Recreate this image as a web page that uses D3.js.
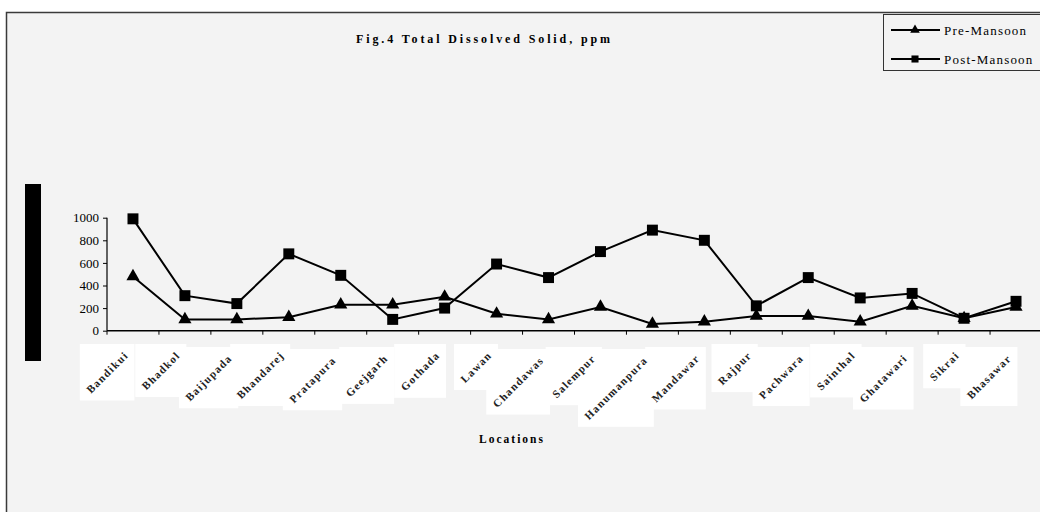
<!DOCTYPE html>
<html><head><meta charset="utf-8">
<script src="https://cdn.jsdelivr.net/npm/d3@7"></script>
<style>
html,body{margin:0;padding:0;background:#fff;}
svg{display:block;}
svg text{font-family:"Liberation Serif","DejaVu Serif",serif;}
</style></head>
<body>
<script>
const locations = ["Bandikui","Bhadkol","Baijupada","Bhandarej","Pratapura","Geejgarh","Gothada","Lawan","Chandawas","Salempur","Hanumanpura","Mandawar","Rajpur","Pachwara","Sainthal","Ghatawari","Sikrai","Bhasawar"];
const preMansoon  = [480,100,100,120,230,230,300,150,100,210,60,80,130,130,80,220,110,210];
const postMansoon = [990,310,240,680,490,100,200,590,470,700,890,800,220,470,290,330,110,260];
const yTicks = [0,200,400,600,800,1000];
const seriesNames = ["Pre-Mansoon","Post-Mansoon"];

const W=1040,H=512;
const svg=d3.select("body").append("svg").attr("width",W).attr("height",H);

// frame
svg.append("rect").attr("x",6.5).attr("y",12.5).attr("width",W).attr("height",H).attr("fill","#f3f3f3").attr("stroke","#3a3a3a").attr("stroke-width",1.5);

const x=d3.scaleBand().domain(locations).range([107,1042]);
const y=d3.scaleLinear().domain([0,1000]).range([330.7,217.7]);

// title
svg.append("text").attr("x",356).attr("y",43).attr("font-weight","bold").attr("font-size",12)
  .attr("textLength",254).attr("lengthAdjust","spacing").attr("fill","#000").text("Fig.4 Total Dissolved Solid, ppm");

// y axis title block
svg.append("rect").attr("x",25).attr("y",184).attr("width",16).attr("height",177).attr("fill","#000");

// y axis
const yAxis=svg.append("g").attr("transform","translate(107,0)")
  .call(d3.axisLeft(y).tickValues(yTicks).tickSize(4).tickPadding(4).tickFormat(d3.format("d")));
yAxis.attr("font-family",null);
yAxis.select(".domain").attr("stroke","#000").attr("stroke-width",1.2).attr("d","M0,"+y(1000)+"V"+y(0));
yAxis.selectAll("line").attr("stroke","#000");
yAxis.selectAll("text").attr("font-size",13).attr("fill","#000");

// x axis
const xg=svg.append("g");
xg.append("line").attr("x1",107).attr("x2",1042).attr("y1",y(0)).attr("y2",y(0)).attr("stroke","#000").attr("stroke-width",1.5);
const edges=locations.map(d=>x(d)).concat([x.range()[1]]);
xg.selectAll("line.tk").data(edges).enter().append("line").attr("class","tk")
  .attr("x1",d=>d).attr("x2",d=>d).attr("y1",y(0)).attr("y2",y(0)+4).attr("stroke","#000").attr("stroke-width",1);

// x labels with white boxes
const boxG=svg.append("g"), txtG=svg.append("g");
const stagger=[0,0,3,0,5,3,0,0,5,3,5,3,0,3,0,3,0,3];
locations.forEach((d,i)=>{
  const cx=x(d)+x.bandwidth()/2;
  const t=txtG.append("text").attr("font-size",11).attr("font-weight","bold").attr("letter-spacing",1.3)
    .attr("text-anchor","end").attr("fill","#222")
    .attr("transform",`translate(${cx-4},${356+stagger[i]}) rotate(-45)`).text(d);
  const n=t.node(); const bb=n.getBBox(); const m=n.getCTM();
  const pts=[[bb.x,bb.y],[bb.x+bb.width,bb.y],[bb.x,bb.y+bb.height],[bb.x+bb.width,bb.y+bb.height]]
    .map(([px,py])=>[m.a*px+m.c*py+m.e, m.b*px+m.d*py+m.f]);
  const x0=d3.min(pts,p=>p[0]),x1=d3.max(pts,p=>p[0]),y0=d3.min(pts,p=>p[1]),y1=d3.max(pts,p=>p[1]);
  boxG.append("rect").attr("x",x0-4).attr("y",y0-5).attr("width",x1-x0+8).attr("height",y1-y0+10).attr("fill","#fff");
});

// x axis title
svg.append("text").attr("x",512).attr("y",443).attr("text-anchor","middle").attr("font-weight","bold")
  .attr("font-size",11.5).attr("letter-spacing",2).attr("fill","#000").text("Locations");

// lines
const line=d3.line().x((d,i)=>x(locations[i])+x.bandwidth()/2).y(d=>y(d));
svg.append("path").datum(preMansoon).attr("d",line).attr("fill","none").attr("stroke","#000").attr("stroke-width",2);
svg.append("path").datum(postMansoon).attr("d",line).attr("fill","none").attr("stroke","#000").attr("stroke-width",2);

const tri=d3.symbol().type(d3.symbolTriangle).size(75);
const sq=d3.symbol().type(d3.symbolSquare).size(120);
svg.append("g").selectAll("path").data(postMansoon).enter().append("path")
  .attr("d",sq).attr("transform",(d,i)=>`translate(${x(locations[i])+x.bandwidth()/2},${y(d)})`).attr("fill","#000");
svg.append("g").selectAll("path").data(preMansoon).enter().append("path")
  .attr("d",tri).attr("transform",(d,i)=>`translate(${x(locations[i])+x.bandwidth()/2},${y(d)})`).attr("fill","#000");

// legend
const lg=svg.append("g");
lg.append("rect").attr("x",883.5).attr("y",14.5).attr("width",170).attr("height",56).attr("fill","#f3f3f3").attr("stroke","#333").attr("stroke-width",1);
const rows=[30,59];
seriesNames.forEach((n,i)=>{
  lg.append("line").attr("x1",891).attr("x2",940).attr("y1",rows[i]).attr("y2",rows[i]).attr("stroke","#000").attr("stroke-width",2);
  lg.append("path").attr("d",i===0?d3.symbol().type(d3.symbolTriangle).size(40)():d3.symbol().type(d3.symbolSquare).size(50)())
    .attr("transform",`translate(915,${rows[i]})`).attr("fill","#000");
  lg.append("text").attr("x",944).attr("y",rows[i]+4.5).attr("font-size",13).attr("letter-spacing",1.2)
    .attr("fill","#000").text(n);
});
</script>
</body></html>
